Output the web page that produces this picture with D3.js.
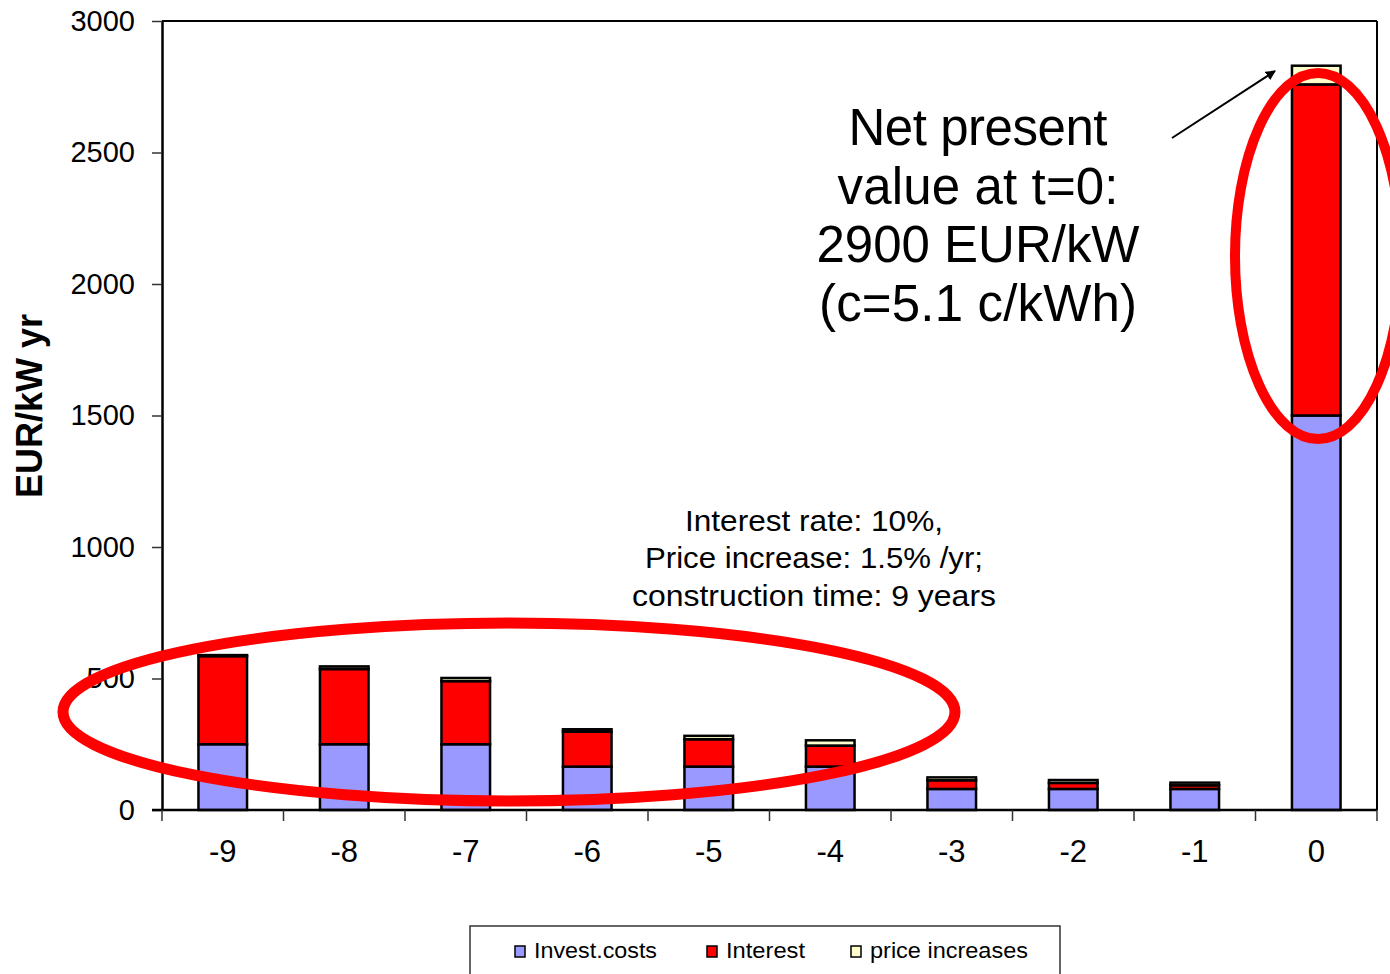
<!DOCTYPE html>
<html>
<head>
<meta charset="utf-8">
<script src="https://cdn.jsdelivr.net/npm/d3@7"></script>
<style>
  html, body { margin: 0; padding: 0; background: #fff; }
  svg { display: block; font-family: "Liberation Sans", Arial, sans-serif; }
</style>
</head>
<body>
<svg id="chart" width="1390" height="974"></svg>
<script>
// Years before commissioning (t = 0 is start of operation)
const years = ["-9", "-8", "-7", "-6", "-5", "-4", "-3", "-2", "-1", "0"];

// Cost components, EUR/kW per year
const investCosts    = [250, 250, 250, 165, 165, 165, 80, 80, 80, 1500];
const interest       = [335, 286, 240, 133, 104, 80, 33, 23, 14, 1259];
const priceIncreases = [4, 10, 12, 9, 13, 20, 11, 11, 10, 71];

const yTicks = [0, 500, 1000, 1500, 2000, 2500, 3000];

const seriesNames  = ["Invest.costs", "Interest", "price increases"];
const seriesKeys   = ["invest", "interest", "price"];
const seriesColors = ["#9999FF", "#FF0000", "#FFFFCC"];

const noteLines  = ["Net present", "value at t=0:", "2900 EUR/kW", "(c=5.1 c/kWh)"];
const paramLines = ["Interest rate: 10%,", "Price increase: 1.5% /yr;", "construction time: 9 years"];

const rows = years.map((y, i) => ({
  year: y,
  invest: investCosts[i],
  interest: interest[i],
  price: priceIncreases[i]
}));

const svg = d3.select("#chart");
const plot = { left: 162, right: 1377, top: 21, bottom: 810 };

const x = d3.scaleBand()
  .domain(years)
  .range([plot.left, plot.right])
  .paddingInner(0.6)
  .paddingOuter(0.3);

const y = d3.scaleLinear()
  .domain([0, 3000])
  .range([plot.bottom, plot.top]);

const stacked = d3.stack().keys(seriesKeys)(rows);

// Bars
const layers = svg.append("g").attr("class", "bars")
  .selectAll("g")
  .data(stacked)
  .join("g")
  .attr("fill", (d, i) => seriesColors[i]);

layers.selectAll("rect")
  .data(d => d)
  .join("rect")
  .attr("x", d => x(d.data.year))
  .attr("width", x.bandwidth())
  .attr("y", d => y(d[1]))
  .attr("height", d => y(d[0]) - y(d[1]))
  .attr("stroke", "#000")
  .attr("stroke-width", 2.5);

// Frame: top and right edges of the plot area
svg.append("line")
  .attr("x1", plot.left).attr("x2", plot.right)
  .attr("y1", plot.top).attr("y2", plot.top)
  .attr("stroke", "#000").attr("stroke-width", 2);
svg.append("line")
  .attr("x1", plot.right).attr("x2", plot.right)
  .attr("y1", plot.top).attr("y2", plot.bottom)
  .attr("stroke", "#000").attr("stroke-width", 2);

// Y axis
const yAxis = svg.append("g")
  .attr("transform", `translate(${plot.left},0)`)
  .call(d3.axisLeft(y).tickValues(yTicks).tickFormat(d3.format("d"))
    .tickSize(10).tickPadding(17).tickSizeOuter(0));
yAxis.select(".domain").attr("stroke", "#000").attr("stroke-width", 2.5);
yAxis.selectAll(".tick line").attr("stroke", "#333").attr("stroke-width", 1.5);
yAxis.selectAll(".tick text")
  .attr("font-size", 29)
  .attr("font-family", "Liberation Sans, Arial, sans-serif")
  .attr("fill", "#000");

// X axis: labels centred on bars, tick marks between categories
const xAxis = svg.append("g")
  .attr("transform", `translate(0,${plot.bottom})`)
  .call(d3.axisBottom(x).tickSize(0).tickPadding(30).tickSizeOuter(0));
xAxis.select(".domain").remove();
xAxis.selectAll(".tick text")
  .attr("font-size", 31)
  .attr("font-family", "Liberation Sans, Arial, sans-serif")
  .attr("fill", "#000");

svg.append("line")
  .attr("x1", plot.left - 10).attr("x2", plot.right)
  .attr("y1", plot.bottom).attr("y2", plot.bottom)
  .attr("stroke", "#000").attr("stroke-width", 2.5);

const boundaries = years.map(yr => x(yr) - x.step() * x.paddingOuter()).concat([plot.right]);
svg.append("g").selectAll("line")
  .data(boundaries)
  .join("line")
  .attr("x1", d => d).attr("x2", d => d)
  .attr("y1", plot.bottom).attr("y2", plot.bottom + 11)
  .attr("stroke", "#333").attr("stroke-width", 1.5);

// Y axis title
svg.append("text")
  .attr("transform", "translate(42,406) rotate(-90)")
  .attr("text-anchor", "middle")
  .attr("font-size", 36)
  .attr("font-weight", "bold")
  .text("EUR/kW yr");

// Parameter note
svg.append("g").selectAll("text")
  .data(paramLines)
  .join("text")
  .attr("x", 814)
  .attr("y", (d, i) => 531 + i * 37.3)
  .attr("text-anchor", "middle")
  .attr("font-size", 29)
  .attr("textLength", (d, i) => [258, 338, 364][i])
  .attr("lengthAdjust", "spacingAndGlyphs")
  .text(d => d);

// Net present value note
svg.append("g").selectAll("text")
  .data(noteLines)
  .join("text")
  .attr("x", 978)
  .attr("y", (d, i) => 145 + i * 58.5)
  .attr("text-anchor", "middle")
  .attr("font-size", 51)
  .attr("textLength", (d, i) => [259, 281, 323, 318][i])
  .attr("lengthAdjust", "spacing")
  .text(d => d);

// Arrow pointing to the top of the t = 0 bar
svg.append("defs").append("marker")
  .attr("id", "arrowHead")
  .attr("viewBox", "0 0 10 10")
  .attr("refX", 9).attr("refY", 5)
  .attr("markerWidth", 10).attr("markerHeight", 10)
  .attr("markerUnits", "userSpaceOnUse")
  .attr("orient", "auto")
  .append("path")
  .attr("d", "M0,0 L10,5 L0,10 z")
  .attr("fill", "#000");

svg.append("line")
  .attr("x1", 1172).attr("y1", 138)
  .attr("x2", 1275).attr("y2", 71)
  .attr("stroke", "#000").attr("stroke-width", 2)
  .attr("marker-end", "url(#arrowHead)");

// Highlight ellipses
svg.append("ellipse")
  .attr("cx", 509).attr("cy", 712)
  .attr("rx", 446).attr("ry", 89)
  .attr("fill", "none")
  .attr("stroke", "#FF0000").attr("stroke-width", 11);

svg.append("ellipse")
  .attr("cx", 1318).attr("cy", 256)
  .attr("rx", 83).attr("ry", 183)
  .attr("fill", "none")
  .attr("stroke", "#FF0000").attr("stroke-width", 10);

// Legend
const legend = svg.append("g");
legend.append("rect")
  .attr("x", 470).attr("y", 926)
  .attr("width", 590).attr("height", 80)
  .attr("fill", "#fff")
  .attr("stroke", "#333").attr("stroke-width", 1.5);

const legendX = [515, 707, 851];
const legendItems = legend.selectAll("g.item")
  .data(seriesNames)
  .join("g")
  .attr("class", "item")
  .attr("transform", (d, i) => `translate(${legendX[i]},946)`);

legendItems.append("rect")
  .attr("width", 10).attr("height", 11)
  .attr("fill", (d, i) => seriesColors[i])
  .attr("stroke", "#000").attr("stroke-width", 1.5);

legendItems.append("text")
  .attr("x", 19).attr("y", 12)
  .attr("font-size", 22)
  .attr("textLength", (d, i) => [123, 79, 158][i])
  .attr("lengthAdjust", "spacingAndGlyphs")
  .text(d => d);
</script>
</body>
</html>
